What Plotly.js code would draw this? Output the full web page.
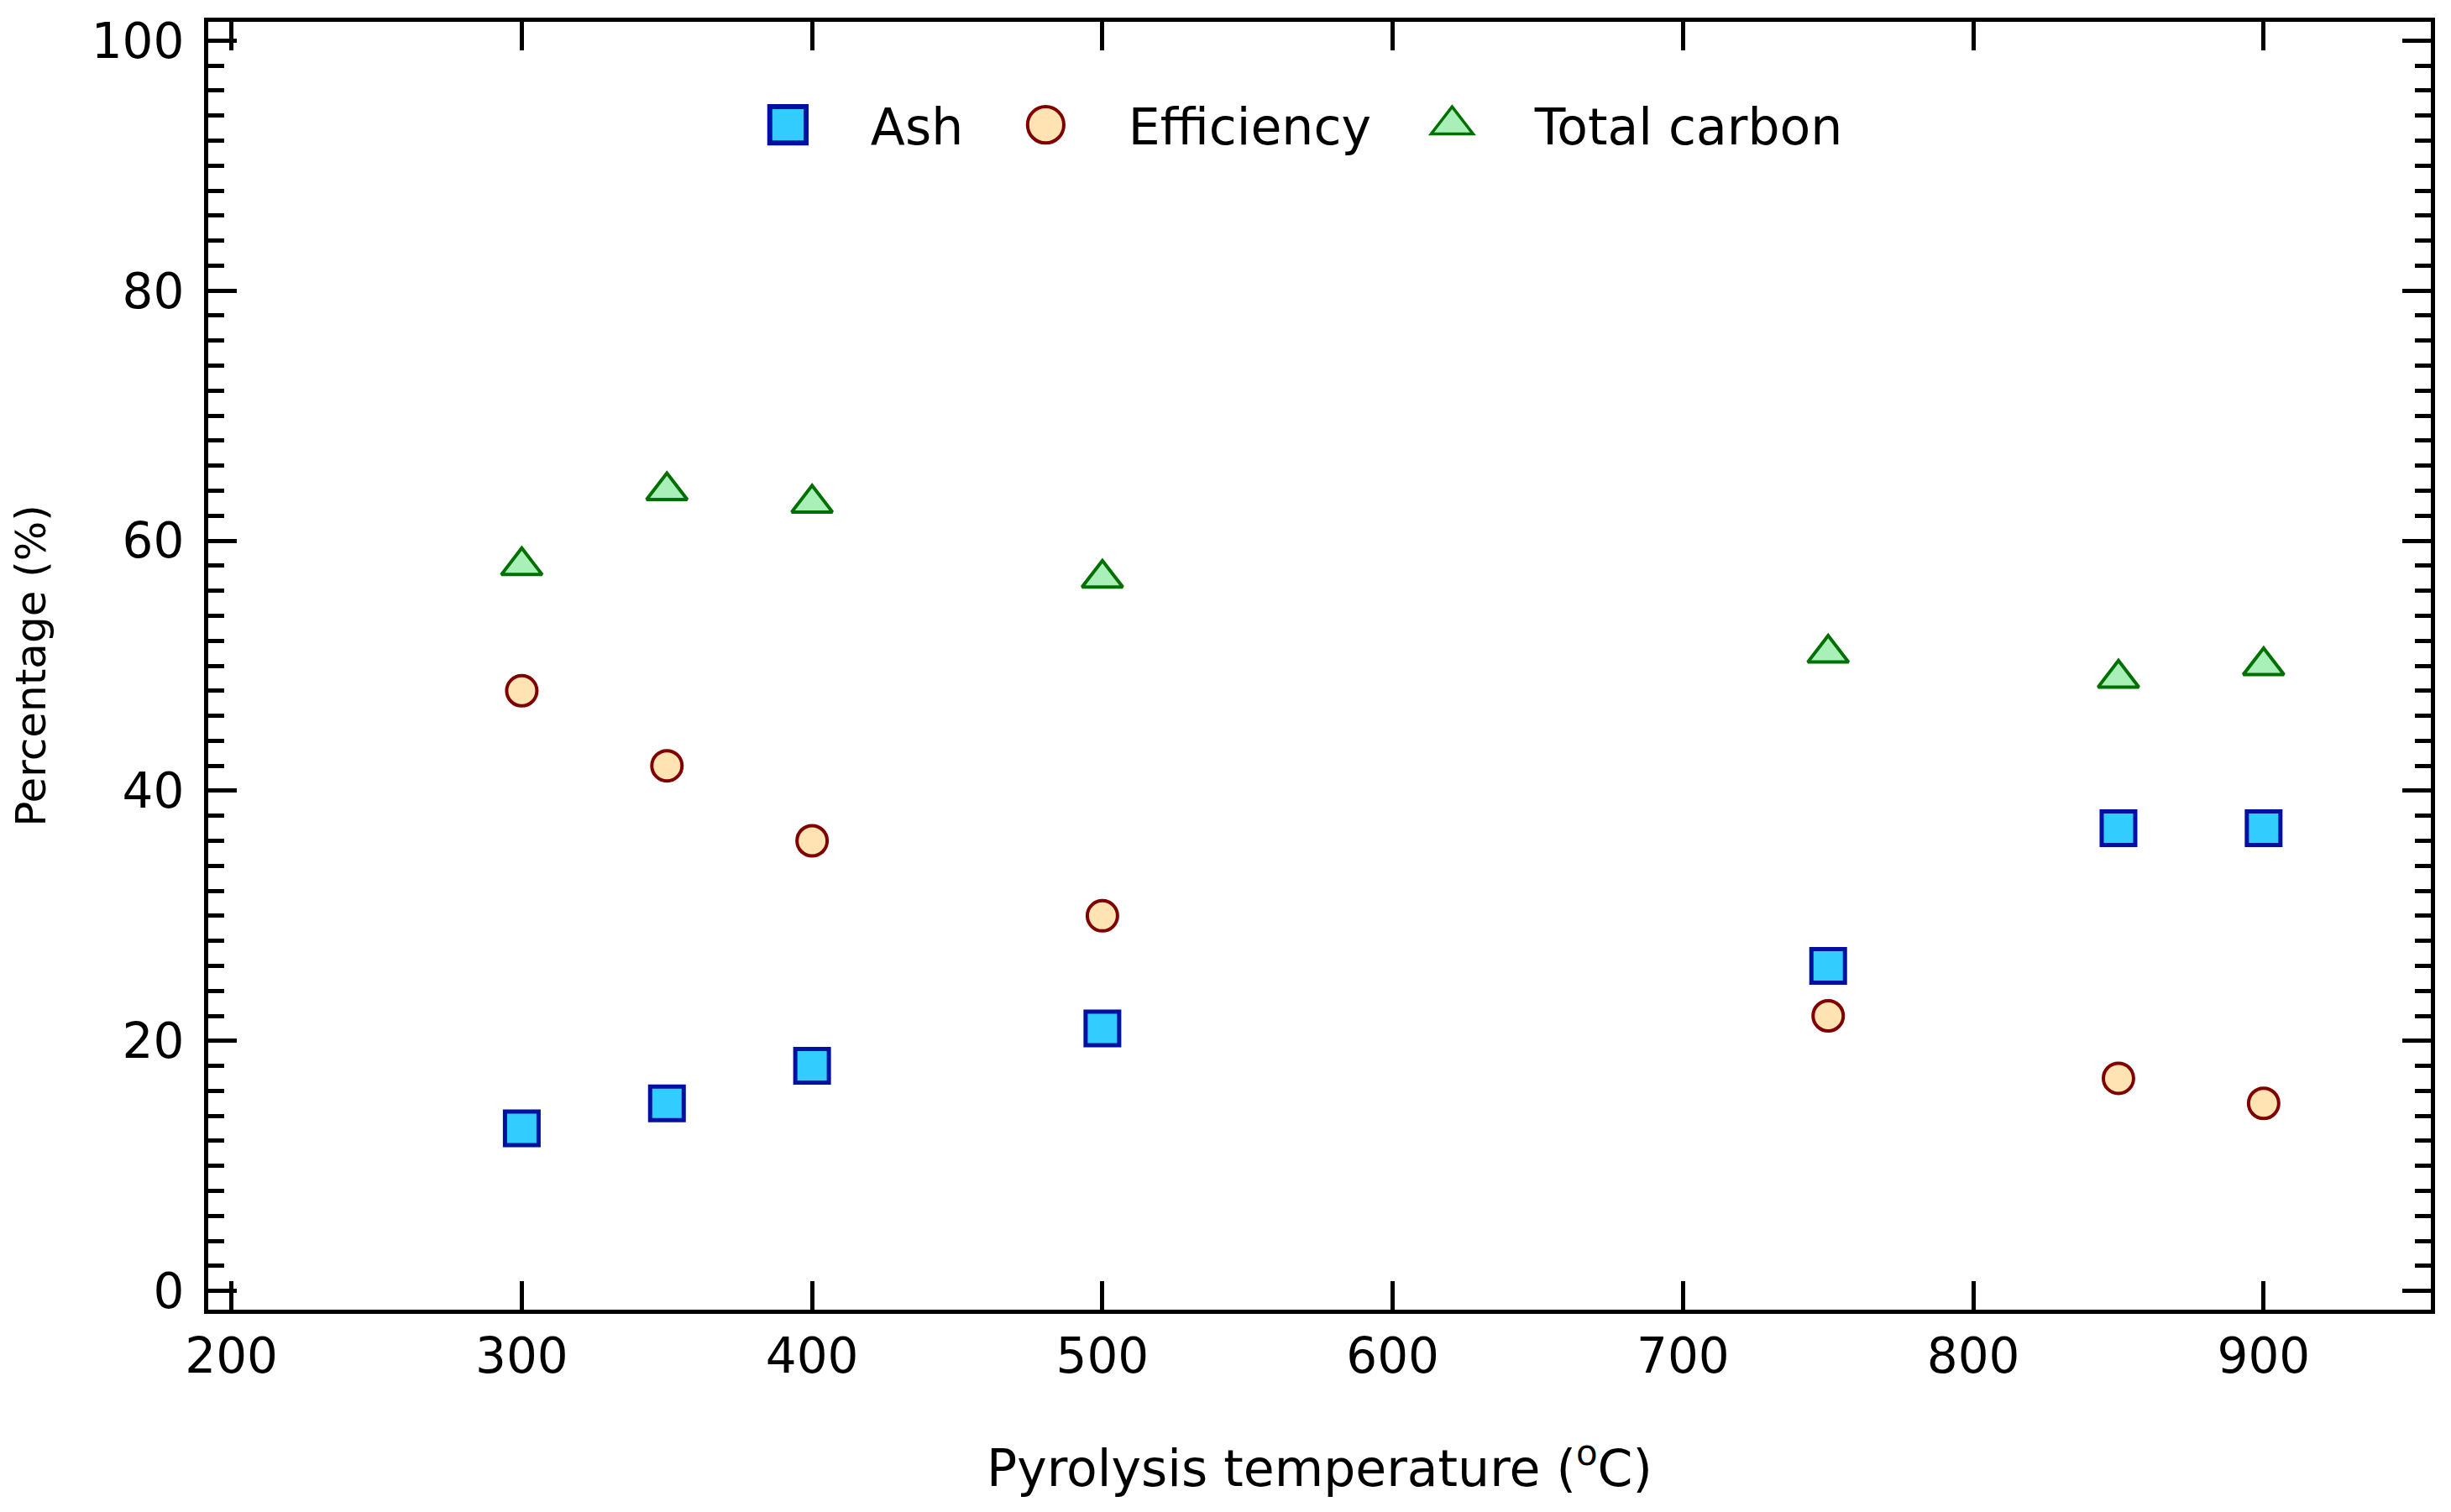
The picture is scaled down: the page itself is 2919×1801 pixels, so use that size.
<!DOCTYPE html>
<html>
<head>
<meta charset="utf-8">
<script src="https://cdn.plot.ly/plotly-3.0.1.min.js"></script>
<style>
  html, body { margin: 0; padding: 0; background: #fff; }
  #chart { width: 2919px; height: 1801px; }
</style>
</head>
<body>
<div id="chart"></div>
<script>
// -----------------------
// Data
// -----------------------
const temps = [300, 350, 400, 500, 750, 850, 900];
const ash = [13, 15, 18, 21, 26, 37, 37];
const efficiency = [48, 42, 36, 30, 22, 17, 15];
const totalCarbon = [58, 64, 63, 57, 51, 49, 50];

const FONT = "DejaVu Sans, Verdana, sans-serif";

const traces = [
  {
    x: temps, y: ash, name: "Ash", type: "scatter", mode: "markers",
    legendwidth: 105,
    marker: { symbol: "square", size: 40, color: "#33CCFF", line: { color: "#0010A0", width: 5 } }
  },
  {
    x: temps, y: efficiency, name: "Efficiency", type: "scatter", mode: "markers",
    legendwidth: 282,
    marker: { symbol: "circle", size: 36, color: "#FFE3B3", line: { color: "#800000", width: 4 } }
  },
  {
    x: temps, y: totalCarbon, name: "Total carbon", type: "scatter", mode: "markers",
    legendwidth: 360,
    marker: { symbol: "triangle-up", size: 42, color: "#A8F0B8", line: { color: "#007000", width: 4 } }
  }
];

const axisCommon = {
  showgrid: false,
  zeroline: false,
  showline: true,
  linecolor: "#000",
  linewidth: 5,
  mirror: "allticks",
  ticks: "inside",
  tickcolor: "#000",
  tickwidth: 5,
  ticklen: 34,
  tickfont: { family: FONT, size: 58, color: "#000" }
};

const Y_RANGE = [-1.5, 101.5];

const layout = {
  width: 2919,
  height: 1801,
  margin: { l: 248, r: 24, t: 26, b: 241 },
  paper_bgcolor: "#fff",
  plot_bgcolor: "#fff",
  font: { family: FONT, color: "#000" },
  showlegend: true,
  legend: {
    orientation: "h",
    x: 0.2236, y: 0.92,
    xanchor: "left", yanchor: "middle",
    font: { family: FONT, size: 60, color: "#000" },
    itemwidth: 187,
    bgcolor: "rgba(0,0,0,0)"
  },
  xaxis: Object.assign({}, axisCommon, {
    range: [192, 957.6],
    tick0: 200, dtick: 100,
    ticklabelstandoff: 0,
    title: { text: "Pyrolysis temperature (<sup>o</sup>C)", font: { family: FONT, size: 60 }, standoff: 82 },
    automargin: false
  }),
  yaxis: Object.assign({}, axisCommon, {
    range: Y_RANGE,
    tick0: 0, dtick: 20,
    ticklabelstandoff: 12,
    minor: { dtick: 2, ticks: "inside", ticklen: 19, tickwidth: 5, tickcolor: "#000", showgrid: false },
    title: { text: "Percentage (%)", font: { family: FONT, size: 50 }, standoff: 40 },
    automargin: false
  }),
  // medium ticks half way between the labelled ones (10, 30, 50 ...)
  yaxis2: {
    overlaying: "y",
    side: "left",
    range: Y_RANGE,
    tick0: 10, dtick: 20,
    ticks: "inside",
    ticklen: 27,
    tickwidth: 5,
    tickcolor: "#000",
    mirror: "allticks",
    showline: false,
    showgrid: false,
    zeroline: false,
    showticklabels: false
  }
};

// legend symbols are capped in size by plotly, so enlarge them afterwards
const LEGEND_SCALE = 2.7;
const legendStroke = [6, 4, 3.5];

Plotly.newPlot("chart", traces, layout, { staticPlot: true }).then(gd => {
  gd.querySelectorAll(".legend .traces").forEach((tr, i) => {
    tr.querySelectorAll(".legendpoints path.scatterpts").forEach(p => {
      const t = p.getAttribute("transform") || "";
      p.setAttribute("transform", t + " scale(" + LEGEND_SCALE + ")");
      p.style.strokeWidth = (legendStroke[i] / LEGEND_SCALE) + "px";
    });
  });
});
</script>
</body>
</html>
